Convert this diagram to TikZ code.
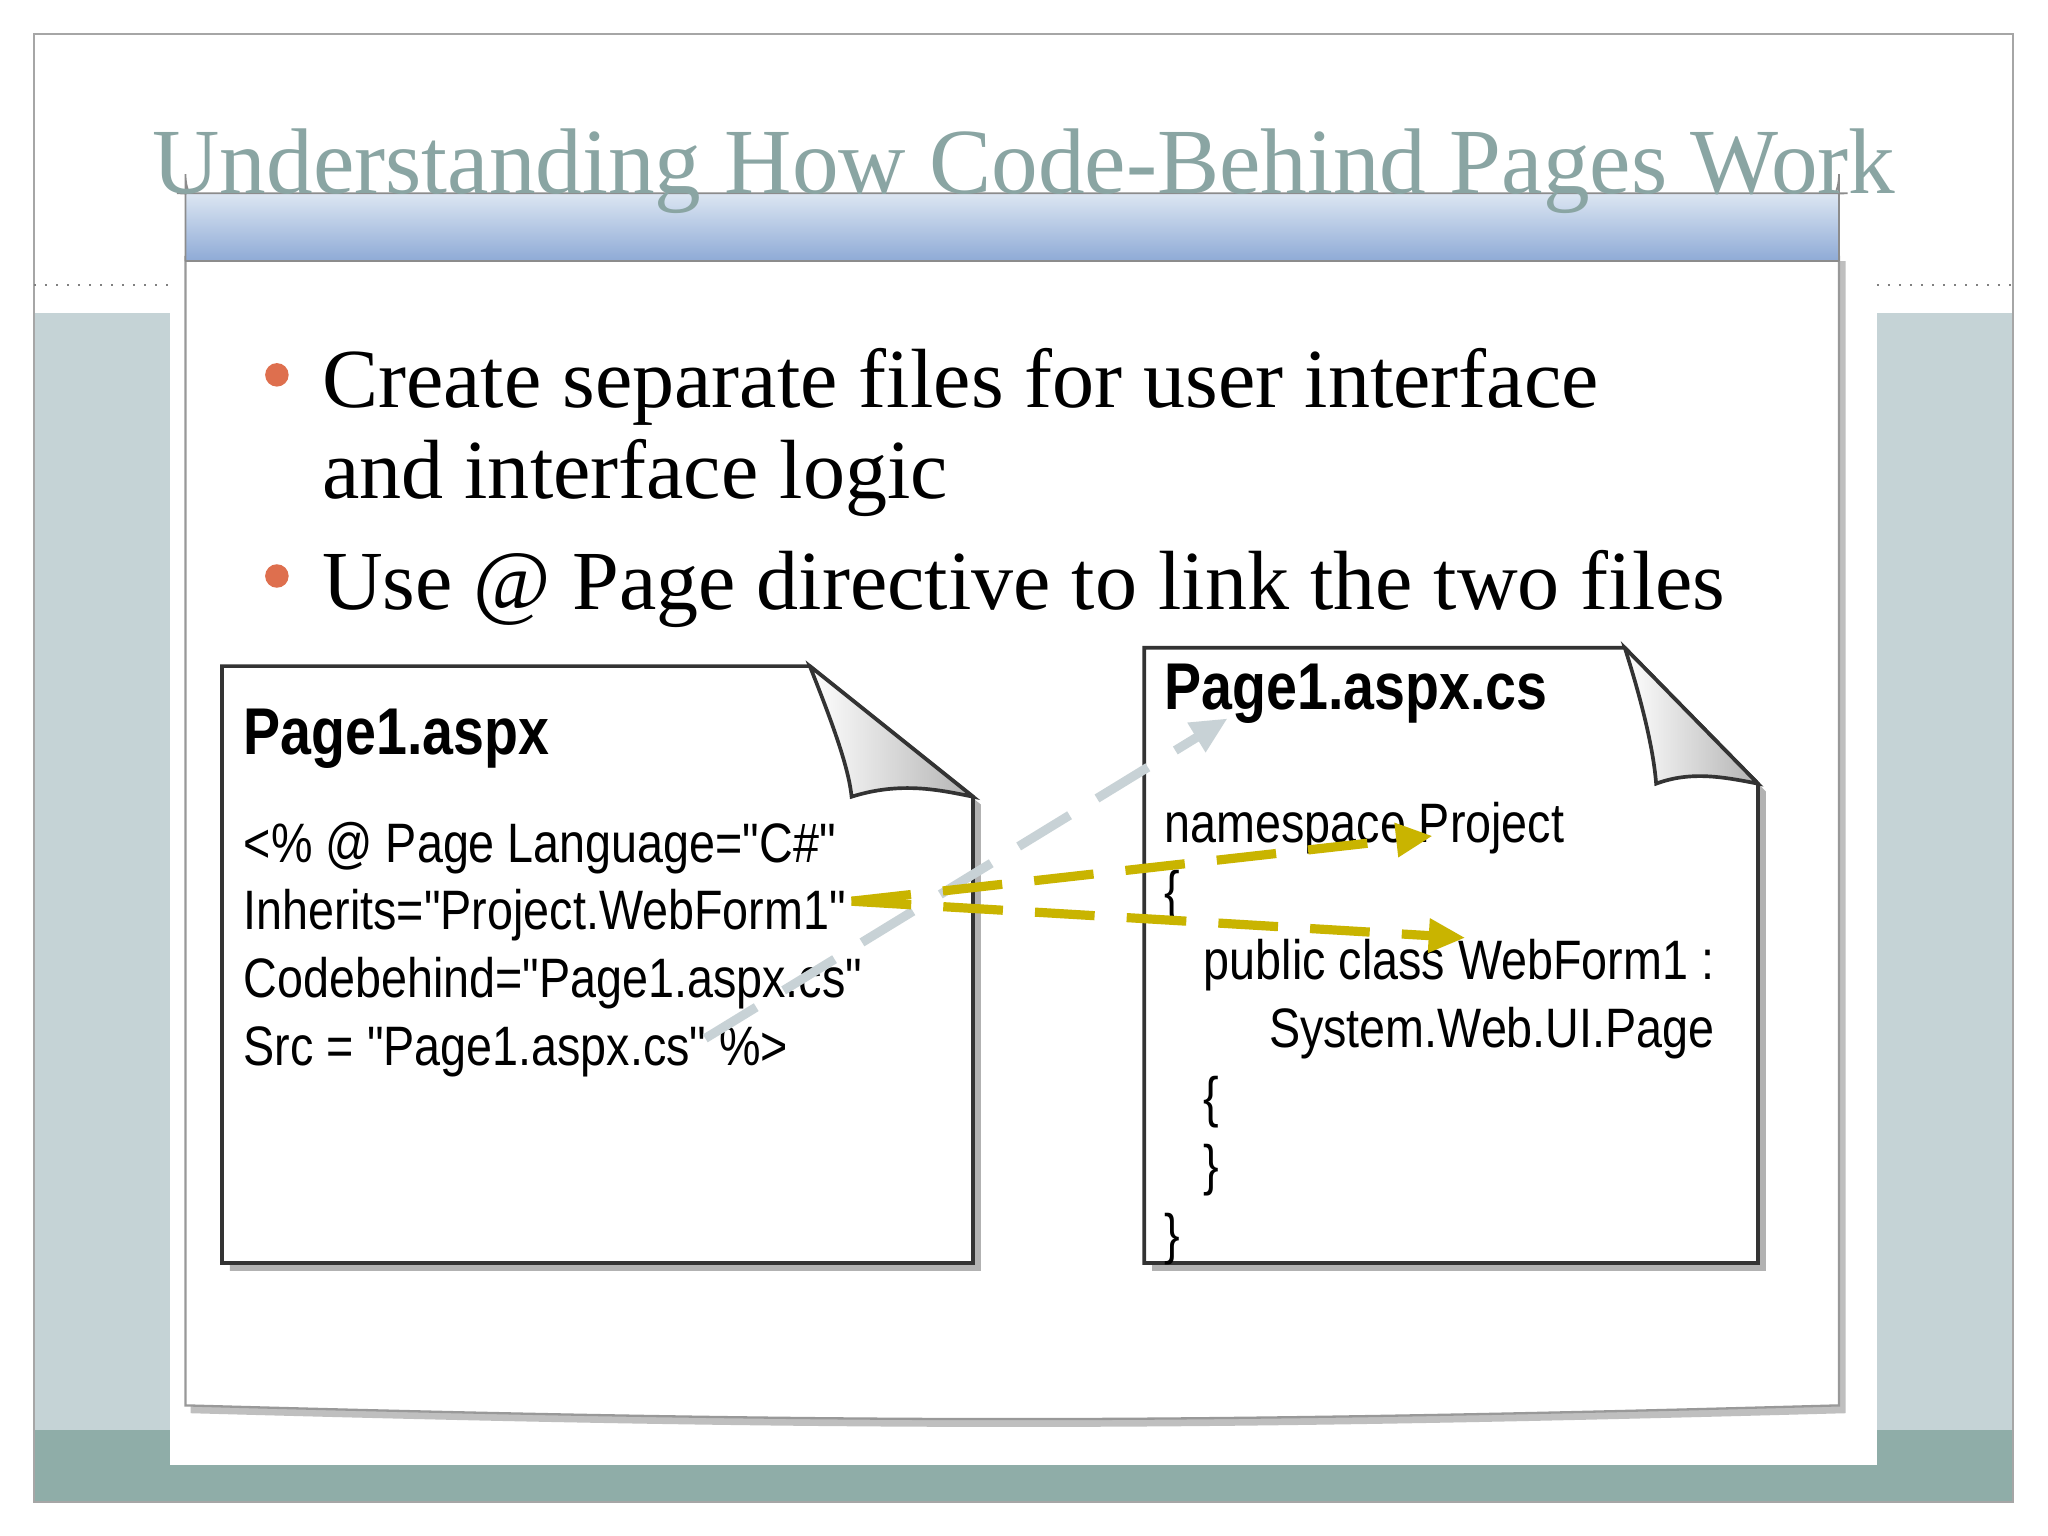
\documentclass[tikz,border=0pt]{standalone}
\usepackage{fontspec}
\setmainfont{Liberation Serif}
\newfontfamily\narrow[FakeStretch=0.84]{Liberation Sans}
\usetikzlibrary{arrows.meta,shadows}
\definecolor{sidegray}{HTML}{C5D3D6}
\definecolor{bandteal}{HTML}{8FADA8}
\definecolor{titlec}{HTML}{8AA5A3}
\definecolor{hdrtop}{HTML}{DCE6F2}
\definecolor{hdrbot}{HTML}{8EAAD6}
\definecolor{bulc}{HTML}{DE6F4E}
\definecolor{yel}{HTML}{C9B400}
\definecolor{gdash}{HTML}{C8D2D6}
\tikzset{
 code/.style={anchor=base west,inner sep=0pt,font=\narrow\fontsize{12.1pt}{14pt}\selectfont},
 hd/.style={anchor=base west,inner sep=0pt,font=\narrow\bfseries\fontsize{14.4pt}{16pt}\selectfont},
 bul/.style={anchor=base west,inner sep=0pt,font=\fontsize{18.3pt}{21pt}\selectfont},
 doc/.style={draw=black!80,line width=0.8pt,fill=white},
 ydash/.style={yel,line width=2pt,dash pattern=on 13pt off 7pt,-{Triangle[length=8pt,width=7pt]}},
 gd/.style={gdash,line width=2pt,dash pattern=on 13pt off 7pt,-{Triangle[length=8pt,width=7pt]}}
}
\begin{document}
\begin{tikzpicture}[x=0.01cm,y=-0.01cm]
\useasboundingbox (0,0) rectangle (1568,1176);
\fill[white] (0,0) rectangle (1568,1176);
\fill[bandteal] (26,1095) rectangle (1541,1150);
\fill[sidegray] (26,240) rectangle (130,1095);
\fill[sidegray] (1437,240) rectangle (1541,1095);
\fill[white] (130,240) rectangle (1437,1122);
\draw[gray!70,line width=0.4pt] (26,26) rectangle (1541,1150);
\draw[gray,dotted] (26,218) -- (130,218);
\draw[gray,dotted] (1437,218) -- (1541,218);
% panel
\fill[black!25] (146,200) -- (1413,200) -- (1413,1082) .. controls (900,1096) and (650,1096) .. (146,1082) -- cycle;
\fill[white] (142,196) -- (1408,196) -- (1408,1076) .. controls (900,1090) and (650,1090) .. (142,1076) -- cycle;
\draw[black!40,line width=0.5pt] (142,196) -- (142,1076) .. controls (650,1090) and (900,1090) .. (1408,1076) -- (1408,196);
\shade[top color=hdrtop,bottom color=hdrbot,draw=black!45,rounded corners=7pt] (142,200) -- (142,158) .. controls (142,150) and (150,148) .. (160,148) -- (1390,148) .. controls (1400,148) and (1408,150) .. (1408,158) -- (1408,200);
\draw[black!45] (142,200) -- (1408,200);
\node[anchor=base,inner sep=0pt,text=titlec,font=\fontsize{20.3pt}{24pt}\selectfont] (title) at (784,148) {Understanding How Code-Behind Pages Work};
% bullets
\fill[bulc] (212,287) circle (9);
\fill[bulc] (212,441) circle (9);
\node[bul] (b1) at (246,312) {Create separate files for user interface};
\node[bul] (b1b) at (246,382) {and interface logic};
\node[bul] (b2) at (246,467) {Use @ Page directive to link the two files};
% left doc
\fill[black!30] (176,516) -- (626,516) -- (751,616) -- (751,973) -- (176,973) -- cycle;
\path[doc] (170,510) -- (620,510) -- (745,610) -- (745,967) -- (170,967) -- cycle;
\shade[left color=white,right color=black!30,draw=black!80,line width=0.8pt] (620,510) .. controls (640,560) and (650,590) .. (652,610) .. controls (690,598) and (720,605) .. (745,610) -- cycle;
\node[hd] (h1) at (186,578) {Page1.aspx};
\node[code] (l1) at (186,660) {<\% @ Page Language="C\#"};
\node[code] (l2) at (186,712) {Inherits="Project.WebForm1"};
\node[code] (l3) at (186,764) {Codebehind="Page1.aspx.cs"};
\node[code] (l4) at (186,816) {Src = "Page1.aspx.cs" \%>};
% right doc
\fill[black!30] (882,502) -- (1250,502) -- (1352,606) -- (1352,973) -- (882,973) -- cycle;
\path[doc] (876,496) -- (1244,496) -- (1346,600) -- (1346,967) -- (876,967) -- cycle;
\shade[left color=white,right color=black!30,draw=black!80,line width=0.8pt] (1244,496) .. controls (1258,540) and (1266,575) .. (1268,600) .. controls (1295,590) and (1320,595) .. (1346,600) -- cycle;
\node[hd] (h2) at (891,543) {Page1.aspx.cs};
\node[code] (r1) at (891,645) {namespace Project};
\node[code] (r2) at (891,697) {\{};
\node[code] (r3) at (921,750) {public class WebForm1 :};
\node[code] (r4) at (971,802) {System.Web.UI.Page};
\node[code] (r5) at (921,855) {\{};
\node[code] (r6) at (921,907) {\}};
\node[code] (r7) at (891,960) {\}};
% connectors
\coordinate (s) at (652,690);
\coordinate (g) at (540,795);
\draw[gd] (g) -- (940,550);
\draw[ydash] (s) -- (1097,640);
\draw[ydash] (s) -- (1122,718);
\end{tikzpicture}
\end{document}
